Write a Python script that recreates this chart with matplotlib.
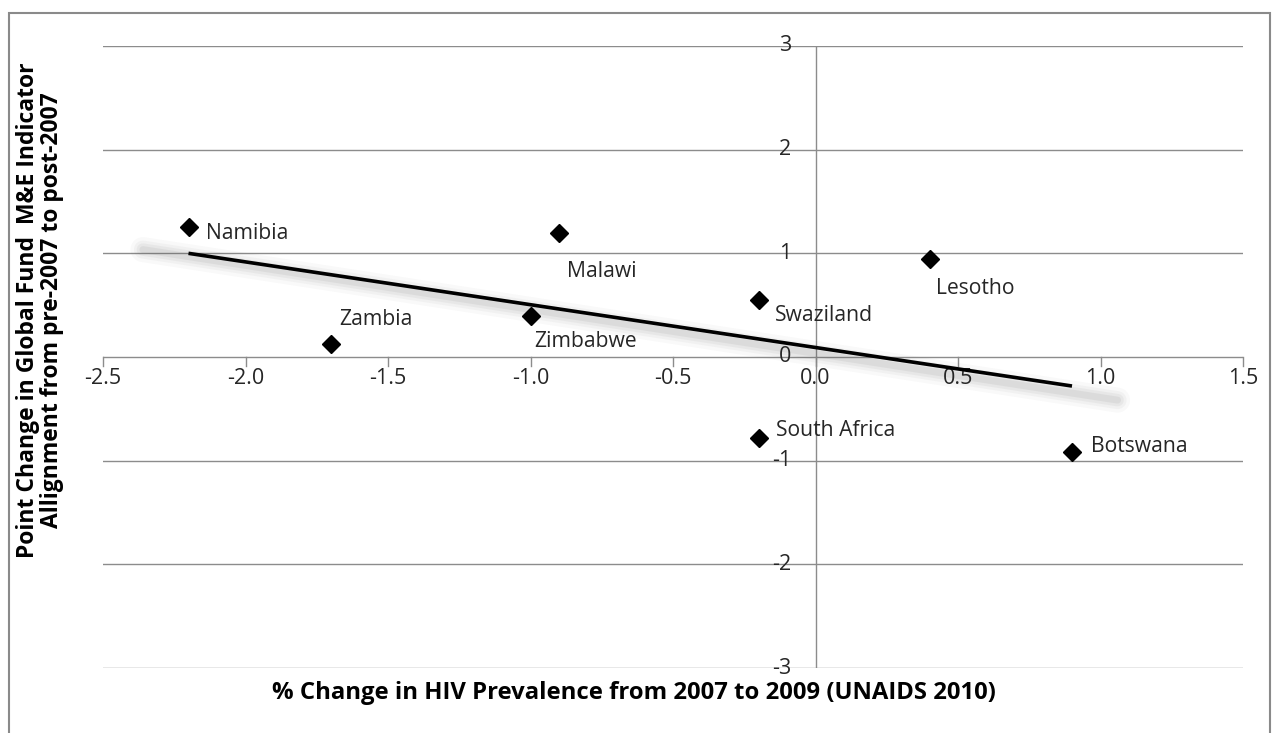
import matplotlib
matplotlib.use('Agg')
import matplotlib.pyplot as plt
from matplotlib.patches import Rectangle

# Data
countries = ['Namibia', 'Malawi', 'Lesotho', 'Swaziland', 'Zimbabwe',
             'Zambia', 'South Africa', 'Botswana']
hiv_change = [-2.2, -0.9, 0.4, -0.2, -1.0, -1.7, -0.2, 0.9]
me_change = [1.25, 1.2, 0.95, 0.55, 0.4, 0.13, -0.78, -0.92]

# linear trend line (endpoints)
trend_x = [-2.2, 0.9]
trend_y = [1.0, -0.28]

x_ticks = [-2.5, -2.0, -1.5, -1.0, -0.5, 0.0, 0.5, 1.0, 1.5]
y_ticks = [-3, -2, -1, 0, 1, 2, 3]

# label offsets in pixels (dx, dy)
label_offsets = {
    'Namibia': (18, -6), 'Malawi': (8, -39), 'Lesotho': (6, -30),
    'Swaziland': (16, -16), 'Zimbabwe': (4, -26), 'Zambia': (8, 24),
    'South Africa': (18, 7), 'Botswana': (19, 6),
}

grid_col = '#8c8c8c'
txt_col = '#262626'
font = ['Open Sans', 'DejaVu Sans']

fig = plt.figure(figsize=(12.77, 7.33), dpi=100)
fig.patches.append(Rectangle((9 / 1277, -0.01), 1261 / 1277, 1 - 13 / 733 + 0.01,
                             transform=fig.transFigure, fill=False,
                             edgecolor='#8a8a8a', linewidth=1.5))

ax = fig.add_axes([103 / 1277, 65 / 733, 1140 / 1277, 622 / 733])
ax.set_xlim(-2.5, 1.5)
ax.set_ylim(-3, 3)

for s in ax.spines.values():
    s.set_visible(False)

# horizontal gridlines
for yv in y_ticks:
    if yv != 0:
        ax.axhline(yv, color=grid_col, lw=1, zorder=1)
# axes crossing at origin
ax.axhline(0, color=grid_col, lw=1, zorder=1)
ax.axvline(0, color=grid_col, lw=1, zorder=1)

# x tick marks below the x axis
for xv in x_ticks:
    ax.plot([xv, xv], [0, -0.085], color=grid_col, lw=1, zorder=1, clip_on=False)

ax.set_xticks([])
ax.set_yticks([])

for xv in x_ticks:
    ax.annotate(f'{xv:.1f}', xy=(xv, 0), xytext=(0, -11), textcoords='offset pixels',
                ha='center', va='top', fontsize=15.5, family=font, color=txt_col)
for yv in y_ticks:
    ax.annotate(f'{yv}', xy=(0, yv), xytext=(-24, 0), textcoords='offset pixels',
                ha='right', va='center', fontsize=15.5, family=font, color=txt_col)

# trend line shadow
ext = 0.16
slope = (trend_y[1] - trend_y[0]) / (trend_x[1] - trend_x[0])
sx = [trend_x[0] - ext, trend_x[1] + ext]
sy = [trend_y[0] - ext * slope - 0.03, trend_y[1] + ext * slope - 0.07]
for lw, a in [(18, 0.035), (13, 0.045), (9, 0.06), (5, 0.08)]:
    ax.plot(sx, sy, color='#555555', lw=lw, alpha=a, solid_capstyle='round', zorder=2)
ax.plot(trend_x, trend_y, color='black', lw=2.6, zorder=3, solid_capstyle='butt')

ax.plot(hiv_change, me_change, linestyle='none', marker='D', markersize=9,
        color='black', zorder=4)

for c, xv, yv in zip(countries, hiv_change, me_change):
    dx, dy = label_offsets[c]
    ax.annotate(c, xy=(xv, yv), xytext=(dx, dy), textcoords='offset pixels',
                ha='left', va='center', fontsize=15.2, family=font, color=txt_col)

fig.text(634 / 1277, 1 - 693 / 733, '% Change in HIV Prevalence from 2007 to 2009 (UNAIDS 2010)',
         ha='center', va='center', fontsize=17.2, fontweight='bold', family=font, color='black')
fig.text(28 / 1277, 1 - 310 / 733, 'Point Change in Global Fund  M&E Indicator',
         ha='center', va='center', rotation=90, fontsize=16.5, fontweight='bold', family=font,
         color='black')
fig.text(52 / 1277, 1 - 310 / 733, 'Allignment from pre-2007 to post-2007',
         ha='center', va='center', rotation=90, fontsize=16.5, fontweight='bold', family=font,
         color='black')

plt.savefig('out.png', dpi=100)
